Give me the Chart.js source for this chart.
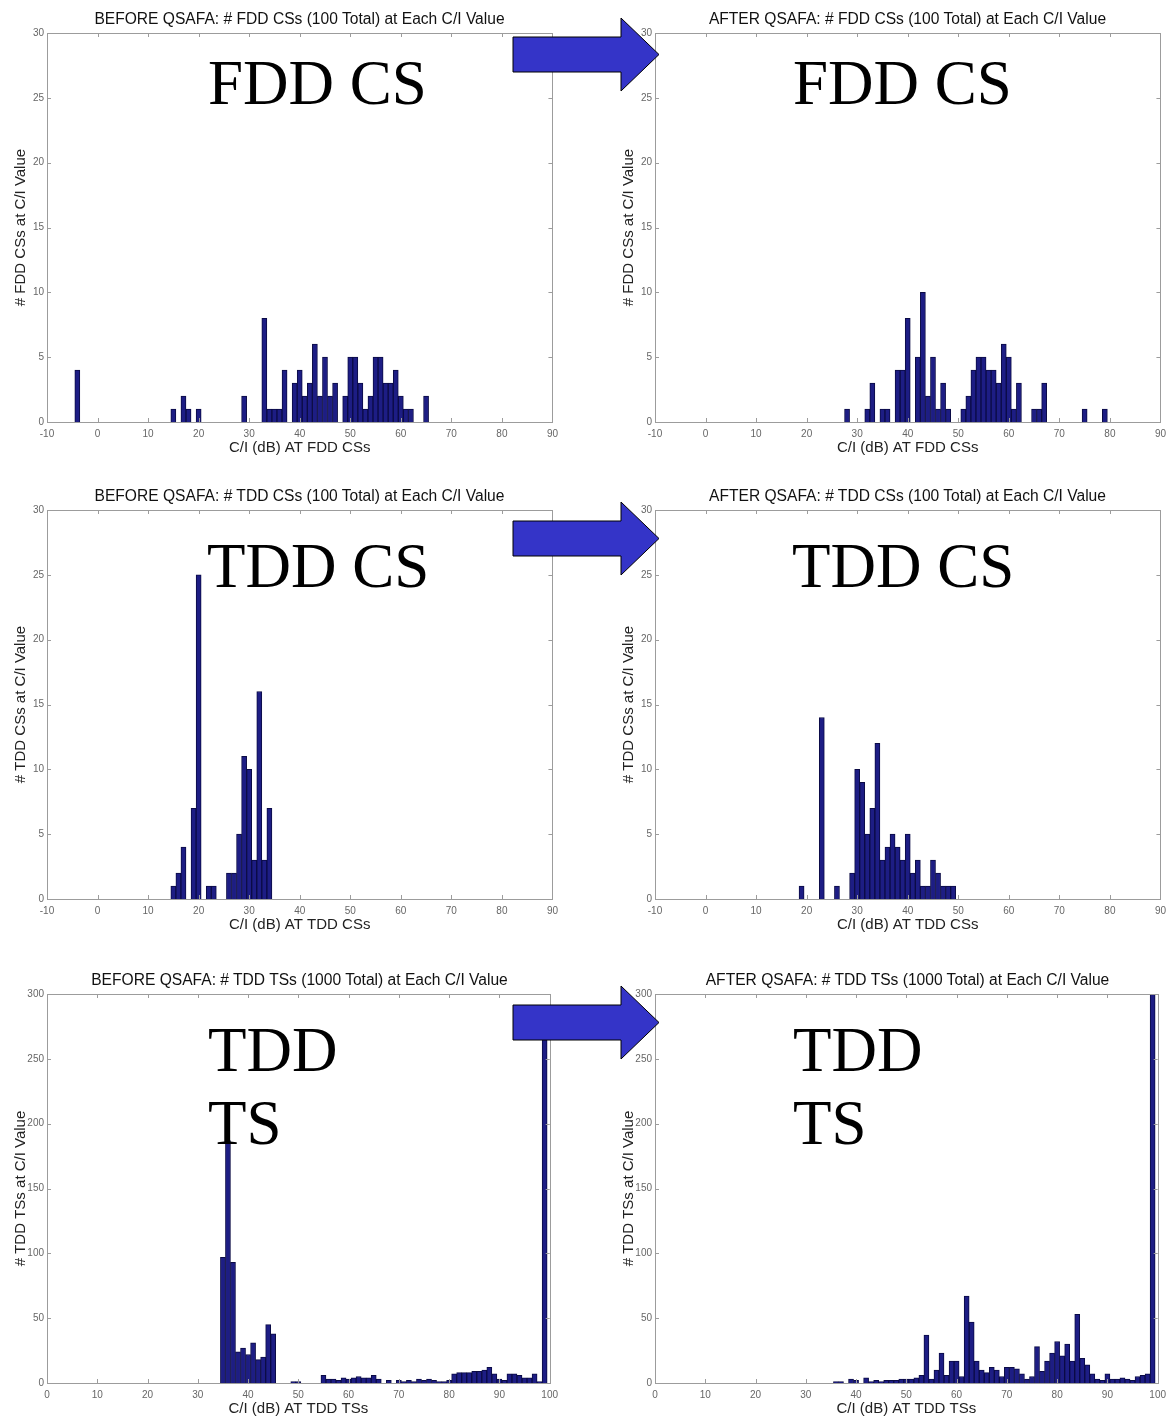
<!DOCTYPE html>
<html>
<head>
<meta charset="utf-8">
<title>QSAFA C/I histograms</title>
<script src="https://cdn.jsdelivr.net/npm/chart.js@4.4.1/dist/chart.umd.min.js"></script>
<style>
body{margin:0;background:#fff;width:1168px;height:1419px;overflow:hidden;position:relative;font-family:"Liberation Sans",Arial,sans-serif}
.panel{position:absolute;width:564px;height:458px}
.title{position:absolute;width:505px;font-size:15.6px;line-height:18px;color:#111;text-align:center;white-space:nowrap}
.big{position:absolute;font-family:"Liberation Serif","Times New Roman",serif;font-size:63px;line-height:73px;color:#000;white-space:nowrap}
#arrows{position:absolute;left:0;top:0}
</style>
</head>
<body>

<div class="panel" style="left:0;top:0"><canvas id="fddBefore" width="564" height="458"></canvas></div>
<div class="panel" style="left:608px;top:0"><canvas id="fddAfter" width="564" height="458"></canvas></div>
<div class="panel" style="left:0;top:477px"><canvas id="tddCsBefore" width="564" height="458"></canvas></div>
<div class="panel" style="left:608px;top:477px"><canvas id="tddCsAfter" width="564" height="458"></canvas></div>
<div class="panel" style="left:0;top:961px"><canvas id="tsBefore" width="564" height="458"></canvas></div>
<div class="panel" style="left:608px;top:961px"><canvas id="tsAfter" width="564" height="458"></canvas></div>

<div class="title" style="left:47px;top:10px">BEFORE QSAFA: # FDD CSs (100 Total) at Each C/I Value</div>
<div class="title" style="left:655px;top:10px">AFTER QSAFA: # FDD CSs (100 Total) at Each C/I Value</div>
<div class="title" style="left:47px;top:487px">BEFORE QSAFA: # TDD CSs (100 Total) at Each C/I Value</div>
<div class="title" style="left:655px;top:487px">AFTER QSAFA: # TDD CSs (100 Total) at Each C/I Value</div>
<div class="title" style="left:47px;top:971px">BEFORE QSAFA: # TDD TSs (1000 Total) at Each C/I Value</div>
<div class="title" style="left:655px;top:971px">AFTER QSAFA: # TDD TSs (1000 Total) at Each C/I Value</div>

<div class="big" style="left:208px;top:47px">FDD CS</div>
<div class="big" style="left:793px;top:47px">FDD CS</div>
<div class="big" style="left:207px;top:530px">TDD CS</div>
<div class="big" style="left:792px;top:530px">TDD CS</div>
<div class="big" style="left:208px;top:1014px">TDD<br>TS</div>
<div class="big" style="left:793px;top:1014px">TDD<br>TS</div>

<svg id="arrows" width="1168" height="1419">
  <g fill="#3434c8" stroke="#000" stroke-width="1">
    <polygon points="513,37 621,37 621,18 659,54.5 621,91 621,72 513,72"/>
    <polygon transform="translate(0,484)" points="513,37 621,37 621,18 659,54.5 621,91 621,72 513,72"/>
    <polygon transform="translate(0,968)" points="513,37 621,37 621,18 659,54.5 621,91 621,72 513,72"/>
  </g>
</svg>

<script>
// counts per 1 dB bin (only non-empty bins listed)
var fddBeforeBins   = [-4, 15, 17, 18, 20, 29, 33, 34, 35, 36, 37, 39, 40, 41, 42, 43, 44, 45, 46, 47, 49, 50, 51, 52, 53, 54, 55, 56, 57, 58, 59, 60, 61, 62, 65];
var fddBeforeCounts = [ 4,  1,  2,  1,  1,  2,  8,  1,  1,  1,  4,  3,  4,  2,  3,  6,  2,  5,  2,  3,  2,  5,  5,  3,  1,  2,  5,  5,  3,  3,  4,  2,  1,  1,  2];

var fddAfterBins   = [28, 32, 33, 35, 36, 38, 39, 40, 42, 43, 44, 45, 46, 47, 48, 51, 52, 53, 54, 55, 56, 57, 58, 59, 60, 61, 62, 65, 66, 67, 75, 79];
var fddAfterCounts = [ 1,  1,  3,  1,  1,  4,  4,  8,  5, 10,  2,  5,  1,  3,  1,  1,  2,  4,  5,  5,  4,  4,  3,  6,  5,  1,  3,  1,  1,  3,  1,  1];

var tddCsBeforeBins   = [15, 16, 17, 19, 20, 22, 23, 26, 27, 28, 29, 30, 31, 32, 33, 34];
var tddCsBeforeCounts = [ 1,  2,  4,  7, 25,  1,  1,  2,  2,  5, 11, 10,  3, 16,  3,  7];

var tddCsAfterBins   = [19, 23, 26, 29, 30, 31, 32, 33, 34, 35, 36, 37, 38, 39, 40, 41, 42, 43, 44, 45, 46, 47, 48, 49];
var tddCsAfterCounts = [ 1, 14,  1,  2, 10,  9,  5,  7, 12,  3,  4,  5,  4,  3,  5,  2,  3,  1,  1,  3,  2,  1,  1,  1];

var tsBeforeBins   = [35, 36, 37, 38, 39, 40, 41, 42, 43, 44, 45, 49, 50,
                      55, 56, 57, 58, 59, 60, 61, 62, 63, 64, 65, 66,
                      68, 70, 71, 72, 73, 74, 75, 76, 77, 78, 79, 80,
                      81, 82, 83, 84, 85, 86, 87, 88, 89, 90, 91, 92, 93, 94, 95, 96, 97, 98, 99];
var tsBeforeCounts = [97, 187, 93, 24, 27, 22, 31, 18, 20, 45, 38, 1, 1,
                      6, 3, 3, 2, 4, 3, 4, 5, 4, 4, 6, 3,
                      2, 2, 1, 2, 1, 3, 2, 3, 2, 1, 1, 2,
                      7, 8, 8, 8, 9, 9, 10, 12, 7, 3, 2, 7, 7, 6, 4, 4, 7, 1, 268];

var tsAfterBins   = [36, 37, 39, 40, 42, 43, 44, 45, 46, 47, 48, 49, 50, 51,
                     52, 53, 54, 55, 56, 57, 58, 59, 60, 61,
                     62, 63, 64, 65, 66, 67, 68, 69, 70, 71,
                     72, 73, 74, 75, 76, 77, 78, 79, 80, 81,
                     82, 83, 84, 85, 86, 87, 88, 89, 90, 91,
                     92, 93, 94, 95, 96, 97, 98, 99];
var tsAfterCounts = [1, 1, 3, 2, 4, 1, 2, 1, 2, 2, 2, 3, 3, 3,
                     4, 6, 37, 3, 10, 23, 6, 17, 17, 5,
                     67, 47, 17, 10, 8, 12, 10, 5, 12, 12,
                     11, 7, 3, 5, 28, 9, 17, 23, 32, 21,
                     30, 17, 53, 19, 14, 7, 3, 2, 7, 3,
                     3, 4, 3, 2, 5, 6, 7, 300];

var csXRange = [-10, 90];
var tsXRange = [0, 100];
var csYTicks = [0, 30, 5];
var tsYTicks = [0, 300, 50];

// matlab style axes box with inward ticks
var boxPlugin = {
	id: 'matlabBox',
	afterDatasetsDraw: function(chart)
	{
		var ctx = chart.ctx, a = chart.chartArea, x = chart.scales.x, y = chart.scales.y;
		ctx.save();
		ctx.strokeStyle = '#9c9c9c';
		ctx.lineWidth = 1;
		ctx.strokeRect(Math.round(a.left) + 0.5, Math.round(a.top) + 0.5, Math.round(a.right - a.left), Math.round(a.bottom - a.top));
		ctx.beginPath();
		x.ticks.forEach(function(t) {
			var px = Math.round(x.getPixelForValue(t.value)) + 0.5;
			ctx.moveTo(px, a.bottom); ctx.lineTo(px, a.bottom - 4);
			ctx.moveTo(px, a.top); ctx.lineTo(px, a.top + 4);
		});
		y.ticks.forEach(function(t) {
			var py = Math.round(y.getPixelForValue(t.value)) + 0.5;
			ctx.moveTo(a.left, py); ctx.lineTo(a.left + 4, py);
			ctx.moveTo(a.right, py); ctx.lineTo(a.right - 4, py);
		});
		ctx.stroke();
		ctx.restore();
	}
};

function makeHist(id, bins, counts, xRange, yTicks, xLabel, yLabel)
{
	var points = [];
	for (var i = 0; i < bins.length; i++)
	{
		points.push({x: bins[i], y: counts[i]});
	}

	new Chart(document.getElementById(id).getContext('2d'), {
		type: 'bar',
		data: {
			datasets: [{
				data: points,
				backgroundColor: '#1d1d84',
				borderColor: '#0b0b45',
				borderWidth: 1,
				barPercentage: 1,
				categoryPercentage: 1
			}]
		},
		options: {
			responsive: false,
			animation: false,
			layout: {padding: {top: 33, right: 7, left: 0, bottom: 0}},
			plugins: {legend: {display: false}, tooltip: {enabled: false}},
			scales: {
				x: {
					type: 'linear', min: xRange[0], max: xRange[1], offset: false,
					grid: {display: false, drawTicks: false}, border: {display: false},
					ticks: {stepSize: 10, autoSkip: false, maxRotation: 0, padding: 6,
						font: {family: 'Liberation Sans', size: 10}, color: '#666'},
					title: {display: true, text: xLabel, color: '#222',
						font: {family: 'Liberation Sans', size: 15}, padding: {top: 0, bottom: 1}},
					afterFit: function(s) { s.height = 36; }
				},
				y: {
					min: yTicks[0], max: yTicks[1],
					grid: {display: false, drawTicks: false}, border: {display: false},
					ticks: {stepSize: yTicks[2], padding: 3,
						font: {family: 'Liberation Sans', size: 10}, color: '#666'},
					title: {display: true, text: yLabel, color: '#222',
						font: {family: 'Liberation Sans', size: 15}, padding: {top: 12, bottom: 0}},
					afterFit: function(s) { s.width = 47; }
				}
			}
		},
		plugins: [boxPlugin]
	});
}

makeHist('fddBefore', fddBeforeBins, fddBeforeCounts, csXRange, csYTicks, 'C/I (dB) AT FDD CSs', '# FDD CSs at C/I Value');
makeHist('fddAfter', fddAfterBins, fddAfterCounts, csXRange, csYTicks, 'C/I (dB) AT FDD CSs', '# FDD CSs at C/I Value');
makeHist('tddCsBefore', tddCsBeforeBins, tddCsBeforeCounts, csXRange, csYTicks, 'C/I (dB) AT TDD CSs', '# TDD CSs at C/I Value');
makeHist('tddCsAfter', tddCsAfterBins, tddCsAfterCounts, csXRange, csYTicks, 'C/I (dB) AT TDD CSs', '# TDD CSs at C/I Value');
makeHist('tsBefore', tsBeforeBins, tsBeforeCounts, tsXRange, tsYTicks, 'C/I (dB) AT TDD TSs', '# TDD TSs at C/I Value');
makeHist('tsAfter', tsAfterBins, tsAfterCounts, tsXRange, tsYTicks, 'C/I (dB) AT TDD TSs', '# TDD TSs at C/I Value');
</script>
</body>
</html>
